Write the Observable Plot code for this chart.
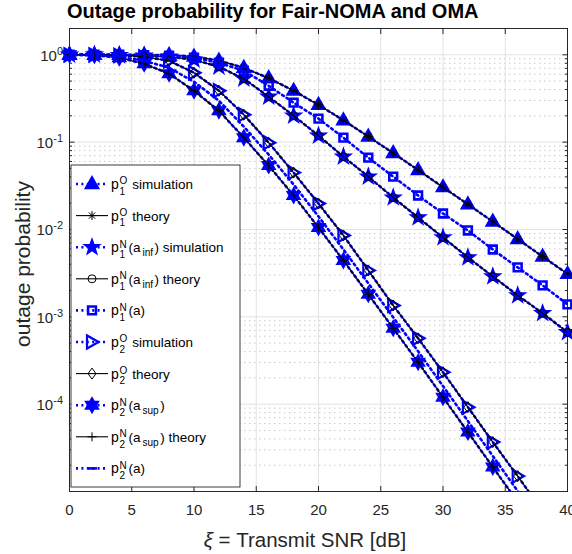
<!DOCTYPE html>
<html><head><meta charset="utf-8">
<script src="https://cdn.jsdelivr.net/npm/d3@7"></script>
<script src="https://cdn.jsdelivr.net/npm/@observablehq/plot@0.6"></script>
<style>
body{margin:0;background:#fff;width:572px;height:554px;overflow:hidden;font-family:"Liberation Sans",Arial,sans-serif}
#title{height:22px;line-height:22px;font-size:20px;font-weight:bold;padding-left:67px;color:#000;white-space:nowrap}
#chart svg{display:block}
</style></head><body>
<div id="title">Outage probability for Fair-NOMA and OMA</div>
<div id="chart"></div>
<script>
// ---- data ----
const snr = [0,2,4,6,8,10,12,14,16,18,20,22,24,26,28,30,32,34,36,38,40];
const p1O    = [1.0,1.0,1.0,0.9996,0.993,0.955,0.859,0.709,0.541,0.388,0.267,0.178,0.116,0.0749,0.0479,0.0305,0.0194,0.0123,0.00776,0.0049,0.0031];
const p1Ninf = [1.0,1.0,0.992,0.974,0.949,0.877,0.729,0.532,0.331,0.201,0.1186,0.0683,0.0403,0.0232,0.0137,0.0081,0.00479,0.0029,0.00176,0.0011,0.000665];
const p1Na   = [1.0,1.0,1.0,0.987,0.974,0.924,0.81,0.656,0.442,0.283,0.186,0.1125,0.0665,0.0403,0.0245,0.01524,0.00974,0.0059,0.00368,0.00229,0.00139];
const p2O    = [1.0,1.0,0.987,0.949,0.854,0.623,0.388,0.206,0.0987,0.0448,0.0198,0.00854,0.0034,0.00135,0.000568,0.000232,9.24e-5,3.68e-5,1.5e-5,5.98e-6,2.38e-6];
const p2Nsup = [1.0,0.987,0.924,0.789,0.607,0.388,0.229,0.1125,0.0539,0.0245,0.01054,0.00442,0.00181,0.00074,0.000302,0.00012,4.79e-5,1.91e-5,7.59e-6,3.02e-6,1.2e-6];
const p2Na   = [1.0,0.992,0.949,0.854,0.71,0.491,0.298,0.1503,0.072,0.0327,0.0141,0.0059,0.00242,0.000987,0.000403,0.000161,6.4e-5,2.55e-5,1.01e-5,4.0e-6,1.6e-6];

const xTicks = [0,5,10,15,20,25,30,35,40];
const xTickLabels = ["0","5","10","15","20","25","30","35","40"];
const yMajor = [1e-4,1e-3,1e-2,1e-1,1];
const yExp = ["-4","-3","-2","-1","0"];
const yMinor = [];
for (let k = -5; k <= -1; k++) for (let m = 2; m <= 9; m++) yMinor.push(m * Math.pow(10, k));

// ---- symbols ----
const blue = "#0000ff";
const FF = "'Liberation Sans', Arial, sans-serif";
const poly = pts => ({draw(ctx){ ctx.moveTo(pts[0][0],pts[0][1]); for (const p of pts.slice(1)) ctx.lineTo(p[0],p[1]); ctx.closePath(); }});
const starSym = (n, R, r) => { const pts=[]; for (let i=0;i<2*n;i++){ const a=-Math.PI/2+i*Math.PI/n, rr=i%2?r:R; pts.push([rr*Math.cos(a), rr*Math.sin(a)]); } return poly(pts); };
const symTriUp = poly([[0,-7.5],[6.8,4.4],[-6.8,4.4]]);
const symPenta = starSym(5, 8, 3.2);
const symHexa = starSym(6, 7.5, 4.3);
const symSquare = poly([[-3.9,-3.9],[3.9,-3.9],[3.9,3.9],[-3.9,3.9]]);
const symTriRight = poly([[6.5,0],[-5,-6.5],[-5,6.5]]);
const symDiamond = poly([[0,-5.5],[4,0],[0,5.5],[-4,0]]);
const symCircle = {draw(ctx){ ctx.moveTo(4,0); ctx.arc(0,0,4,0,2*Math.PI); }};
const symPlus = {draw(ctx){ ctx.moveTo(-4.5,0); ctx.lineTo(4.5,0); ctx.moveTo(0,-4.5); ctx.lineTo(0,4.5); }};
const symAst = {draw(ctx){ const r=4.5, s=r*0.7071; ctx.moveTo(-r,0);ctx.lineTo(r,0);ctx.moveTo(0,-r);ctx.lineTo(0,r);ctx.moveTo(-s,-s);ctx.lineTo(s,s);ctx.moveTo(-s,s);ctx.lineTo(s,-s);} };

const SIM = {color: blue, lw: 2.6, dash: "2 3.4"};
const TH = {color: "#000", lw: 1.1, dash: null};
const series = [
  {...SIM, values: p1O, symbol: symTriUp, fill: blue, ms: blue, msw: 1.5},
  {...TH,  values: p1O, symbol: symAst, fill: "none", ms: "#000", msw: 1},
  {...SIM, values: p1Ninf, symbol: symPenta, fill: blue, ms: blue, msw: 1.5},
  {...TH,  values: p1Ninf, symbol: symCircle, fill: "none", ms: "#000", msw: 1},
  {...SIM, values: p1Na, symbol: symSquare, fill: "none", ms: blue, msw: 2.6},
  {...SIM, values: p2O, symbol: symTriRight, fill: "none", ms: blue, msw: 2.2},
  {...TH,  values: p2O, symbol: symDiamond, fill: "none", ms: "#000", msw: 1},
  {...SIM, values: p2Nsup, symbol: symHexa, fill: blue, ms: blue, msw: 1.5},
  {...TH,  values: p2Nsup, symbol: symPlus, fill: "none", ms: "#000", msw: 1},
  {...SIM, values: p2Na, symbol: null}
];
const rows = arr => snr.map((x,i) => ({x, y: arr[i]}));

const marks = [
  Plot.ruleY(yMinor, {stroke: "#c4c4c4", strokeWidth: 0.9, strokeDasharray: "1.5 3.5"}),
  Plot.ruleY(yMajor, {stroke: "#e2e2e2", strokeWidth: 1}),
  Plot.ruleX(xTicks.slice(1,-1), {stroke: "#e2e2e2", strokeWidth: 1}),
  Plot.frame({stroke: "#262626", strokeWidth: 1}),
  Plot.axisY(yMinor, {anchor: "left", tickSize: -3, tickFormat: () => "", label: null, stroke: "#262626"}),
  Plot.axisY(yMinor, {anchor: "right", tickSize: -3, tickFormat: () => "", label: null, stroke: "#262626"}),
  Plot.axisY(yMajor, {anchor: "left", tickSize: -5.5, tickFormat: () => "", label: null, stroke: "#262626"}),
  Plot.axisY(yMajor, {anchor: "right", tickSize: -5.5, tickFormat: () => "", label: null, stroke: "#262626"}),
  Plot.axisX(xTicks, {anchor: "top", tickSize: -5, tickFormat: () => "", label: null, stroke: "#262626"}),
  Plot.axisX(xTicks, {anchor: "bottom", tickSize: -5, tickPadding: 18, label: null, fontSize: 15, stroke: "#262626",
    tickFormat: d => xTickLabels[xTicks.indexOf(d)]})
];
for (const s of series) {
  marks.push(Plot.line(rows(s.values), {x: "x", y: "y", stroke: s.color, strokeWidth: s.lw, strokeDasharray: s.dash, clip: true}));
  if (s.symbol) marks.push(Plot.dot(rows(s.values).filter(d => d.y >= 1e-5), {x: "x", y: "y", symbol: s.symbol, r: 4, fill: s.fill, stroke: s.ms, strokeWidth: s.msw}));
}

const chart = Plot.plot({
  width: 572, height: 532,
  marginLeft: 69, marginRight: 5, marginTop: 6, marginBottom: 63,
  style: {fontFamily: FF, fontSize: "15px", color: "#262626", background: "#fff"},
  x: {domain: [0, 40], label: null},
  y: {type: "log", domain: [1e-5, 2], label: null},
  marks
});
document.getElementById("chart").appendChild(chart);

// ---- y tick labels with superscripts ----
const ys = chart.scale("y");
const g = d3.select(chart).append("g").attr("font-family", FF).attr("fill", "#262626").attr("text-anchor", "start");
yMajor.forEach((v, i) => {
  const py = ys.apply(v);
  const t = g.append("text").attr("x", 63).attr("y", py + 6.5).attr("text-anchor", "end").attr("font-size", 15);
  t.append("tspan").text("10");
  t.append("tspan").attr("dy", -6).attr("font-size", 11).text(yExp[i]);
});

// ---- axis labels ----
const xl = g.append("text").attr("x", 305).attr("y", 525).attr("text-anchor", "middle").attr("font-size", 20.5);
xl.append("tspan").attr("font-style", "italic").text("\u03be");
xl.append("tspan").text(" = Transmit SNR [dB]");
g.append("text").attr("transform", "translate(30,242) rotate(-90)").attr("text-anchor", "middle").attr("font-size", 21).text("outage probability");

// ---- legend ----
const legend = [
  {s: 0, sup: "O", sub: "1", rest: [{t: "\u00a0simulation"}]},
  {s: 1, sup: "O", sub: "1", rest: [{t: "\u00a0theory"}]},
  {s: 2, sup: "N", sub: "1", rest: [{t: "(a"}, {t: "inf", sub: true}, {t: ") simulation"}]},
  {s: 3, sup: "N", sub: "1", rest: [{t: "(a"}, {t: "inf", sub: true}, {t: ") theory"}]},
  {s: 4, sup: "N", sub: "1", rest: [{t: "(a)"}]},
  {s: 5, sup: "O", sub: "2", rest: [{t: "\u00a0simulation"}]},
  {s: 6, sup: "O", sub: "2", rest: [{t: "\u00a0theory"}]},
  {s: 7, sup: "N", sub: "2", rest: [{t: "(a"}, {t: "sup", sub: true}, {t: ")"}]},
  {s: 8, sup: "N", sub: "2", rest: [{t: "(a"}, {t: "sup", sub: true}, {t: ") theory"}]},
  {s: 9, sup: "N", sub: "2", rest: [{t: "(a)"}]}
];
const lg = d3.select(chart).append("g").attr("font-family", FF).attr("fill", "#000").attr("text-anchor", "start");
lg.append("rect").attr("x", 71).attr("y", 143).attr("width", 169).attr("height", 322)
  .attr("fill", "#fff").attr("stroke", "#262626").attr("stroke-width", 0.9);
legend.forEach((it, i) => {
  const cy = 162 + i * 31.6;
  const s = series[it.s];
  lg.append("line").attr("x1", 76).attr("x2", 108).attr("y1", cy).attr("y2", cy)
    .attr("stroke", s.color).attr("stroke-width", s.lw).attr("stroke-dasharray", s.dash);
  if (s.symbol) {
    lg.append("path").attr("d", d3.symbol().type(s.symbol)()).attr("transform", `translate(92,${cy})`)
      .attr("fill", s.fill).attr("stroke", s.ms).attr("stroke-width", s.msw);
  } else {
    lg.append("line").attr("x1", 88).attr("x2", 97).attr("y1", cy).attr("y2", cy).attr("stroke", blue).attr("stroke-width", 2.6);
  }
  lg.append("text").attr("x", 111).attr("y", cy + 5).attr("font-size", 14).text("p");
  lg.append("text").attr("x", 119.5).attr("y", cy + 0.3).attr("font-size", 10).text(it.sup);
  lg.append("text").attr("x", 119.5).attr("y", cy + 10.8).attr("font-size", 10).text(it.sub);
  const t = lg.append("text").attr("x", 128.5).attr("y", cy + 5).attr("font-size", 13.5);
  let down = false;
  for (const seg of it.rest) {
    const ts = t.append("tspan").text(seg.t);
    if (seg.sub) { ts.attr("font-size", 10).attr("dy", 4).attr("dx", 2); down = true; }
    else if (down) { ts.attr("dy", -4).attr("dx", 1.5); down = false; }
  }
});
</script>
</body></html>
